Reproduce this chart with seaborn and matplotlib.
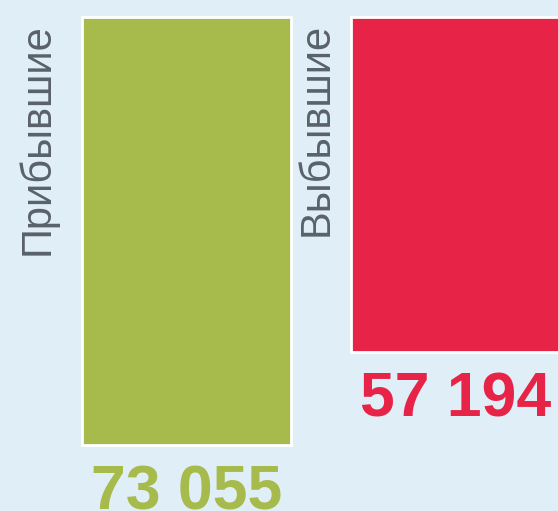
import matplotlib
matplotlib.use("Agg")
import matplotlib.pyplot as plt
import seaborn as sns

categories = ["Прибывшие", "Выбывшие"]
values = [73055, 57194]
value_labels = ["73 055", "57 194"]
colors = ["#a6bb4b", "#e72447"]

BG = "#e0eef7"
TEXT_GREY = "#59616a"

sns.set_theme(style="white")
plt.rcParams["font.family"] = ["Liberation Sans", "DejaVu Sans"]

fig = plt.figure(figsize=(5.58, 5.11), dpi=100)
fig.patch.set_facecolor(BG)
ax = fig.add_axes([0, 0, 1, 1])
ax.set_facecolor(BG)

bar_width = 0.777
sns.barplot(
    x=categories, y=values, hue=categories, palette=colors, saturation=1,
    width=bar_width, edgecolor="white", linewidth=2,
    legend=False, ax=ax,
)

# bars hang from the top edge
ax.set_xlim(-0.693, 1.381)
ax.set_ylim(84320, -2902)
ax.axis("off")

# values under the bars
for i, (v, lab) in enumerate(zip(values, value_labels)):
    ax.annotate(
        lab, xy=(i, v), xytext=(0, -13), textcoords="offset points",
        ha="center", va="top", fontsize=45, fontweight="bold", color=colors[i],
    )

# rotated category names left of each bar
label_dx = [-32, -25]
label_dy = [-88, -81]
for i, name in enumerate(categories):
    ax.annotate(
        name, xy=(i - bar_width / 2, 0), xytext=(label_dx[i], label_dy[i]),
        textcoords="offset points", ha="center", va="center",
        rotation=90, fontsize=30, color=TEXT_GREY,
    )

fig.savefig("out.png", dpi=100, facecolor=BG)
